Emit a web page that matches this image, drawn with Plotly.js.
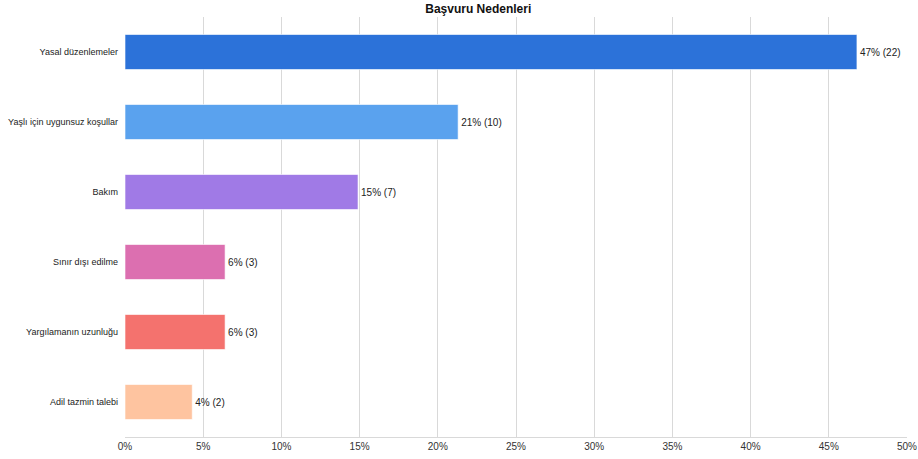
<!DOCTYPE html>
<html>
<head>
<meta charset="utf-8">
<script src="https://cdn.plot.ly/plotly-3.0.1.min.js"></script>
<style>html,body{margin:0;padding:0;background:#fff}#chart{width:918px;height:459px}</style>
</head>
<body>
<div id="chart"></div>
<script>
const categories = ["Yasal düzenlemeler", "Yaşlı için uygunsuz koşullar", "Bakım", "Sınır dışı edilme", "Yargılamanın uzunluğu", "Adil tazmin talebi"];
const percents = [46.8, 21.3, 14.9, 6.4, 6.4, 4.3];
const counts = [22, 10, 7, 3, 3, 2];
const colors = ["#2c72d9", "#5aa2ee", "#a07ae6", "#dc6fb0", "#f4726e", "#fec4a0"];
const tickVals = [0, 5, 10, 15, 20, 25, 30, 35, 40, 45, 50];
const tickText = tickVals.map(v => v + "%");
const labels = percents.map((p, i) => Math.round(p) + "% (" + counts[i] + ")");

const trace = {
  type: "bar",
  orientation: "h",
  y: categories,
  x: percents,
  text: labels,
  textposition: "outside",
  cliponaxis: false,
  textfont: {family: "Liberation Sans, Arial, sans-serif", size: 10, color: "#222"},
  marker: {color: colors, line: {color: "rgba(255,255,255,0.6)", width: 1}},
  width: 0.5,
  hoverinfo: "none"
};

const layout = {
  width: 918, height: 459,
  margin: {l: 125, r: 11, t: 17, b: 22},
  paper_bgcolor: "#fff", plot_bgcolor: "#fff",
  font: {family: "Liberation Sans, Arial, sans-serif", size: 10, color: "#222"},
  title: {text: "<b>Başvuru Nedenleri</b>", xref: "container", x: 0.521, xanchor: "center", y: 0.99, yanchor: "top",
          font: {family: "Liberation Sans, Arial, sans-serif", size: 12, color: "#111"}},
  showlegend: false,
  bargap: 0.5,
  xaxis: {
    range: [0, 50], tickvals: tickVals, ticktext: tickText,
    showgrid: true, gridcolor: "#d9d9d9", gridwidth: 1,
    zeroline: false, showline: true, linecolor: "#d9d9d9", linewidth: 1,
    ticks: "", ticklen: 0, tickfont: {size: 10, color: "#333"}, fixedrange: true
  },
  yaxis: {
    autorange: "reversed", showgrid: false, zeroline: false, showline: false,
    ticks: "", ticklabelstandoff: 6, tickfont: {size: 9, color: "#222"}, fixedrange: true
  }
};

Plotly.newPlot("chart", [trace], layout, {displayModeBar: false, staticPlot: true});
</script>
</body>
</html>
